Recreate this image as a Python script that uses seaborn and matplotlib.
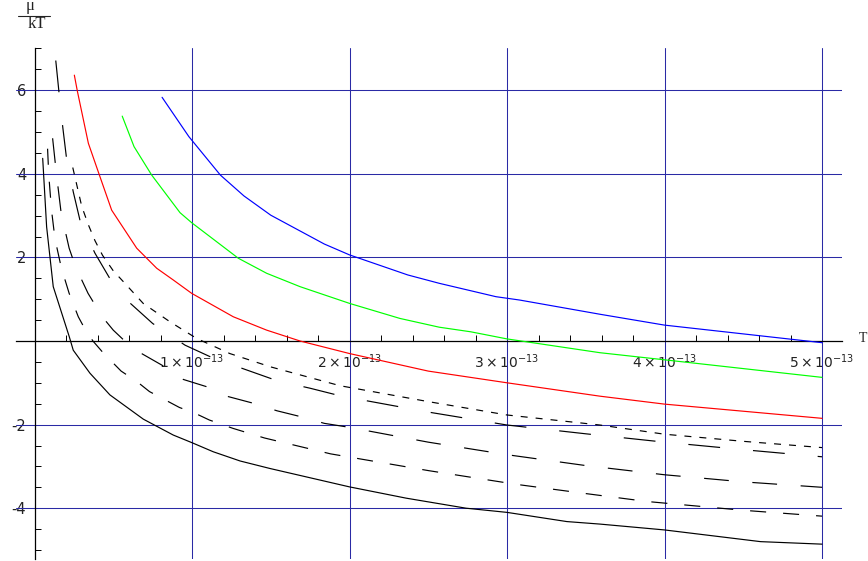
import numpy as np
import matplotlib
matplotlib.use("Agg")
import matplotlib.pyplot as plt
import seaborn as sns
import pandas as pd

sns.set_theme(style="white")
plt.rcParams['font.family'] = ['DejaVu Sans']
plt.rcParams['mathtext.fontset'] = 'dejavusans'

# x values in units of 1e-13
blue_x = [0.81, 0.98, 1.18, 1.33, 1.50, 1.84, 2.0, 2.37, 2.57, 2.93, 3.08, 3.59, 4.0, 4.5, 5.0]
blue_y = [5.83, 4.89, 3.97, 3.47, 3.01, 2.32, 2.06, 1.58, 1.38, 1.06, 0.98, 0.64, 0.38, 0.17, -0.04]

green_x = [0.557, 0.632, 0.744, 0.924, 0.998, 1.294, 1.474, 1.686, 2.0, 2.32, 2.57, 2.77, 3.0, 3.59, 4.0, 4.5, 5.0]
green_y = [5.38, 4.65, 3.97, 3.07, 2.83, 1.98, 1.62, 1.30, 0.90, 0.54, 0.33, 0.22, 0.05, -0.28, -0.45, -0.66, -0.87]

red_x = [0.253, 0.272, 0.342, 0.412, 0.49, 0.649, 0.776, 0.881, 0.998, 1.262, 1.474, 1.686, 2.0, 2.5, 3.0, 3.59, 4.0, 4.5, 5.0]
red_y = [6.36, 5.98, 4.73, 3.97, 3.13, 2.22, 1.74, 1.46, 1.14, 0.58, 0.26, 0.0, -0.30, -0.72, -1.0, -1.32, -1.51, -1.68, -1.85]

dashA_x = [0.243, 0.257, 0.30, 0.342, 0.384, 0.432, 0.50, 0.564, 0.69, 0.86, 1.03, 1.24, 1.5, 1.94, 2.5, 3.0, 3.59, 4.0, 4.5, 5.0]
dashA_y = [4.15, 3.92, 3.22, 2.78, 2.40, 2.05, 1.68, 1.42, 0.90, 0.46, 0.06, -0.30, -0.62, -1.07, -1.45, -1.77, -2.01, -2.23, -2.40, -2.55]

dashB_x = [0.135, 0.156, 0.179, 0.204, 0.246, 0.293, 0.384, 0.49, 0.6, 0.75, 0.956, 1.135, 1.36, 1.54, 1.75, 1.95, 2.5, 3.0, 3.5, 4.0, 4.5, 5.0]
dashB_y = [6.71, 5.93, 5.13, 4.35, 3.57, 2.82, 2.10, 1.42, 0.93, 0.42, -0.10, -0.41, -0.71, -0.95, -1.13, -1.32, -1.7, -2.01, -2.22, -2.42, -2.6, -2.77]

dashC_x = [0.115, 0.14, 0.167, 0.194, 0.22, 0.264, 0.30, 0.34, 0.43, 0.50, 0.573, 0.68, 0.81, 0.945, 1.09, 1.23, 1.38, 1.54, 1.69, 1.84, 1.99, 2.5, 3.0, 3.5, 4.0, 4.5, 5.0]
dashC_y = [4.85, 3.97, 3.13, 2.65, 2.22, 1.74, 1.46, 1.14, 0.58, 0.26, 0.0, -0.30, -0.58, -0.92, -1.09, -1.33, -1.48, -1.67, -1.81, -1.97, -2.06, -2.42, -2.72, -2.98, -3.2, -3.37, -3.5]

dashD_x = [0.083, 0.0906, 0.108, 0.125, 0.143, 0.171, 0.194, 0.22, 0.278, 0.324, 0.371, 0.44, 0.55, 0.65, 0.73, 0.83, 0.92, 1.02, 1.11, 1.26, 1.46, 1.67, 1.88, 2.5, 3.06, 3.5, 3.89, 4.5, 5.0]
dashD_y = [4.6, 3.97, 3.13, 2.6, 2.22, 1.74, 1.46, 1.14, 0.58, 0.26, 0.0, -0.30, -0.72, -0.97, -1.21, -1.41, -1.59, -1.73, -1.89, -2.09, -2.32, -2.51, -2.70, -3.1, -3.43, -3.65, -3.84, -4.05, -4.19]

solid_x = [0.052, 0.077, 0.119, 0.221, 0.246, 0.352, 0.479, 0.691, 0.881, 0.998, 1.135, 1.305, 1.495, 2.0, 2.36, 2.74, 3.0, 3.38, 3.59, 4.0, 4.61, 5.0]
solid_y = [4.37, 2.73, 1.30, 0.10, -0.22, -0.77, -1.29, -1.87, -2.25, -2.43, -2.65, -2.87, -3.05, -3.49, -3.76, -4.0, -4.10, -4.32, -4.38, -4.52, -4.80, -4.86]

x_ticks = [1, 2, 3, 4, 5]
x_tick_labels = [r'$1\times10^{-13}$', r'$2\times10^{-13}$', r'$3\times10^{-13}$', r'$4\times10^{-13}$', r'$5\times10^{-13}$']
y_ticks = [-4, -2, 2, 4, 6]
y_tick_labels = ['-4', '-2', '2', '4', '6']

W, H = 868, 561
fig = plt.figure(figsize=(W / 100, H / 100), dpi=100)
L, R, T, B = 16, 842, 48, 559
ax = fig.add_axes([L / W, 1 - B / H, (R - L) / W, (B - T) / H])
ax.set_facecolor('white')

px_per_x = 157.5
x0_px = 34.5
ax.set_xlim((L - x0_px) / px_per_x, (R - x0_px) / px_per_x)
ax.set_ylim(-(B - 341) / 41.8, (341 - T) / 41.8)

grid_col = '#2a2aa5'
for gx in x_ticks:
    ax.axvline(gx, color=grid_col, lw=0.75, zorder=1)
for gy in y_ticks:
    ax.axhline(gy, color=grid_col, lw=0.75, zorder=1)

# dash patterns (in points, scaled by linewidth)
series = [
    (blue_x, blue_y, '#0000ff', None),
    (green_x, green_y, '#00ff00', None),
    (red_x, red_y, '#ff0000', None),
    (dashA_x, dashA_y, 'black', (5.9, 6.8)),
    (dashB_x, dashB_y, 'black', (27, 28)),
    (dashC_x, dashC_y, 'black', (21, 20)),
    (dashD_x, dashD_y, 'black', (13.6, 14.4)),
    (solid_x, solid_y, 'black', None),
]
for xs, ys, col, dash in series:
    df = pd.DataFrame({'x': xs, 'y': ys})
    sns.lineplot(data=df, x='x', y='y', ax=ax, color=col, lw=0.85, sort=False,
                 estimator=None, zorder=3)
    line = ax.lines[-1]
    if dash is not None:
        line.set_dashes(dash)

for s in ['top', 'right']:
    ax.spines[s].set_visible(False)
ax.spines['left'].set_position(('data', 0))
ax.spines['bottom'].set_position(('data', 0))
for s in ['left', 'bottom']:
    ax.spines[s].set_color('black')
    ax.spines[s].set_linewidth(0.9)
    ax.spines[s].set_zorder(2)

ax.set_xticks(x_ticks)
ax.set_xticklabels(x_tick_labels)
ax.set_yticks(y_ticks)
ax.set_yticklabels(y_tick_labels)
ax.set_xticks(np.arange(0.2, 5.1, 0.2), minor=True)
ax.set_yticks(np.arange(-5, 7.01, 0.5), minor=True)
ax.tick_params(axis='x', which='both', direction='in', length=4, width=0.7, color='black',
               labelsize=10, pad=8, labelcolor='#222222', bottom=True)
ax.tick_params(axis='x', which='major', length=6)
ax.tick_params(axis='y', which='both', direction='in', length=4, width=0.7, color='black',
               labelsize=10.5, pad=6, labelcolor='#222222', left=True)
ax.tick_params(axis='y', which='major', length=6)
ax.set_xlabel('')
ax.set_ylabel('')

# y label as a stacked fraction mu / kT
fig.text(30 / W, 1 - 10.5 / H, 'μ', ha='center', va='baseline', fontsize=12,
         family='Liberation Serif', color='#222222')
fig.add_artist(plt.Line2D([18 / W, 50 / W], [1 - 15.5 / H, 1 - 15.5 / H], color='#222222',
                          lw=0.8, transform=fig.transFigure))
fig.text(36.5 / W, 1 - 27.5 / H, 'kT', ha='center', va='baseline', fontsize=12,
         family='Liberation Serif', color='#222222')
fig.text(859 / W, 1 - 338 / H, 'T', ha='left', va='center', fontsize=10,
         family='Liberation Serif', color='#222222')

fig.savefig('out.png', dpi=100)
